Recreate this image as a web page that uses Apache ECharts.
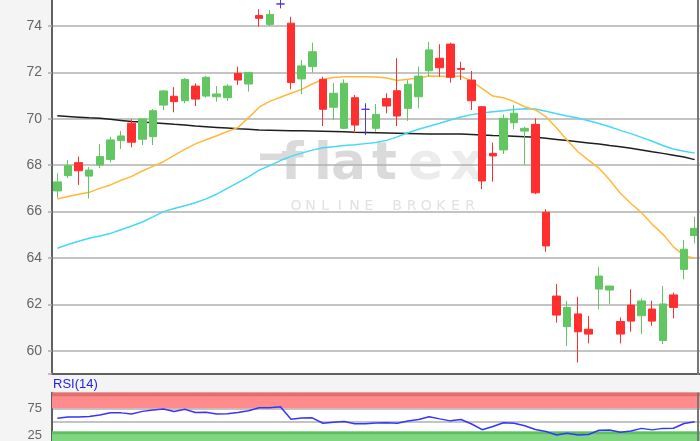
<!DOCTYPE html>
<html><head><meta charset="utf-8">
<script src="https://cdn.jsdelivr.net/npm/echarts@6/dist/echarts.min.js"></script>
<style>html,body{margin:0;padding:0;background:#f4f4f4}#c{width:700px;height:441px}</style>
</head><body><div id="c"></div>
<script>
const categories = [1,2,3,4,5,6,7,8,9,10,11,12,13,14,15,16,17,18,19,20,21,22,23,24,25,26,27,28,29,30,31,32,33,34,35,36,37,38,39,40,41,42,43,44,45,46,47,48,49,50,51,52,53,54,55,56,57,58,59,60,61];
const opens  = [66.89,67.55,68.11,67.53,68.01,68.25,69.06,69.81,69.12,69.23,70.59,70.97,70.78,71.41,70.98,70.95,70.91,71.96,71.50,74.45,74.07,74.95,74.12,71.72,72.25,71.70,70.50,69.59,70.91,70.41,69.59,70.87,71.21,70.45,70.95,72.07,72.61,73.22,72.17,71.67,70.52,68.51,68.66,69.83,69.47,69.76,65.97,62.36,61.04,61.59,60.93,62.66,62.62,61.26,61.97,61.51,61.80,60.44,62.41,63.51,64.97];
const closes = [67.28,67.98,67.76,67.79,68.37,69.09,69.26,68.99,69.99,70.35,71.20,70.74,71.70,70.85,71.79,71.07,71.41,71.67,71.99,74.33,74.50,74.95,71.56,72.28,72.89,70.41,71.10,71.53,69.73,70.41,70.19,70.55,70.12,71.49,71.84,72.97,72.20,71.79,72.13,70.78,67.32,68.40,70.02,70.24,69.59,66.81,64.52,61.54,61.87,60.82,60.72,63.22,62.79,60.72,61.28,62.15,61.28,62.02,61.87,64.38,65.28];
const lows   = [66.59,67.45,67.15,66.57,67.87,68.12,68.70,68.77,68.87,68.87,70.38,70.28,70.67,70.55,70.91,70.74,70.77,71.46,71.17,73.97,74.00,74.76,71.27,71.06,71.99,69.69,69.95,69.55,69.38,69.30,69.44,70.24,69.69,69.91,70.45,71.81,71.81,71.56,71.67,70.38,66.97,67.29,68.48,69.55,68.01,66.75,64.27,61.21,60.21,59.49,60.32,61.79,62.02,60.32,60.82,60.72,61.08,60.29,61.40,63.08,64.63];
const highs  = [67.66,68.22,68.37,67.92,68.91,69.22,69.47,69.98,70.02,70.42,71.24,71.36,71.75,71.53,71.84,71.41,71.49,72.25,72.03,74.72,74.69,75.20,74.40,72.53,73.28,71.81,71.53,71.70,71.03,70.67,70.64,71.10,72.61,71.67,72.25,73.32,73.21,73.28,72.46,72.06,70.55,68.97,70.19,70.59,69.66,70.02,66.10,62.88,62.16,62.33,61.50,63.60,62.80,61.44,62.65,62.26,62.16,62.79,62.51,64.78,65.78];
const maShort = [66.54,66.65,66.75,66.83,67.00,67.15,67.35,67.52,67.75,67.95,68.15,68.42,68.68,68.92,69.10,69.27,69.45,69.62,70.05,70.50,70.75,70.93,71.10,71.27,71.50,71.70,71.78,71.81,71.81,71.81,71.80,71.76,71.65,71.70,71.76,71.84,71.83,71.81,71.84,71.62,71.30,70.98,70.91,70.74,70.52,70.38,70.09,69.60,69.08,68.58,68.22,67.87,67.36,66.79,66.35,65.95,65.45,65.03,64.48,64.10,63.99];
const maMid = [64.42,64.58,64.72,64.85,64.95,65.06,65.22,65.38,65.55,65.77,66.00,66.13,66.25,66.38,66.55,66.75,67.00,67.25,67.50,67.79,67.98,68.20,68.38,68.52,68.65,68.75,68.80,68.85,68.88,68.93,68.98,69.07,69.22,69.40,69.55,69.68,69.81,69.95,70.08,70.18,70.25,70.30,70.35,70.40,70.43,70.42,70.33,70.22,70.12,70.03,69.92,69.80,69.66,69.50,69.36,69.20,69.03,68.85,68.70,68.60,68.52];
const maLong = [70.13,70.10,70.07,70.04,70.02,69.98,69.93,69.88,69.86,69.83,69.80,69.76,69.73,69.69,69.66,69.63,69.60,69.57,69.55,69.52,69.51,69.50,69.49,69.48,69.47,69.46,69.45,69.44,69.42,69.41,69.40,69.39,69.38,69.37,69.36,69.35,69.35,69.34,69.34,69.32,69.30,69.28,69.27,69.25,69.23,69.20,69.16,69.11,69.06,69.01,68.96,68.91,68.85,68.80,68.73,68.66,68.58,68.51,68.43,68.35,68.24];
const rsi = [56.3,58.8,58.8,59.5,62.5,66.8,66.4,64.4,69.2,71.8,73.5,69.0,73.1,67.0,67.5,64.4,64.6,67.2,70.3,76.1,76.1,77.8,54.7,56.7,57.1,47.0,48.9,50.2,46.1,46.3,47.6,47.8,47.2,51.3,54.1,59.1,55.2,51.5,54.1,45.7,35.1,40.9,48.1,47.2,42.4,35.4,31.7,25.2,28.4,25.2,26.1,34.0,34.5,30.2,32.6,37.5,34.7,37.5,37.7,46.5,50.0];
const priceTicks = [60,62,64,66,68,70,72,74];
const rsiTicks = [25,75];

const GREEN = '#62c662', RED = '#ff2f2f', PURPLE = '#5533dd';
const FONT = 'Liberation Sans';

const candleData = categories.map((c, i) => {
  const item = { value: [opens[i], closes[i], lows[i], highs[i]] };
  if (opens[i] === closes[i]) {
    item.itemStyle = { color: PURPLE, color0: PURPLE, borderColor: PURPLE, borderColor0: PURPLE, borderColorDoji: PURPLE };
  }
  return item;
});

const wmFlat = '#dadada', wmEx = '#ececec', wmSub = '#e2e2e2';
const wmLetters = [
  ['f', 281, wmFlat], ['l', 314, wmFlat], ['a', 331, wmFlat], ['t', 372, wmFlat], ['e', 408, wmEx], ['x', 450, wmEx]
];
const subLetters = ['O','N','L','I','N','E','B','R','O','K','E','R'];
const graphic = [
  { type: 'rect', shape: { x: 52, y: 0, width: 648, height: 374 }, style: { fill: '#fff' }, z: -10, silent: true },
  { type: 'rect', shape: { x: 52, y: 392.7, width: 648, height: 49 }, style: { fill: '#fff' }, z: -10, silent: true },
  { type: 'rect', shape: { x: 260, y: 153.5, width: 34, height: 6.5 }, style: { fill: wmFlat }, z: -5, silent: true }
];
wmLetters.forEach(([ch, x, col]) => graphic.push({
  type: 'text', x: x, y: 165, z: -5, silent: true,
  style: { text: ch, fill: col, font: 'bold 52px "DejaVu Sans"', textVerticalAlign: 'middle', verticalAlign: 'middle' }
}));
subLetters.forEach((ch, i) => graphic.push({
  type: 'text', x: (i < 6 ? 296 + i * 14.6 : 397 + (i - 6) * 14.6), y: 206.7, z: -5, silent: true,
  style: { text: ch, fill: wmSub, font: '14px "DejaVu Sans"', textAlign: 'center', align: 'center', textVerticalAlign: 'middle', verticalAlign: 'middle' }
}));
graphic.push(
  { type: 'line', shape: { x1: 698, y1: 0, x2: 698, y2: 375 }, style: { stroke: '#777', lineWidth: 2 }, z: 10, silent: true },
  { type: 'line', shape: { x1: 698, y1: 392.7, x2: 698, y2: 441 }, style: { stroke: '#777', lineWidth: 2 }, z: 10, silent: true }
);

const chart = echarts.init(document.getElementById('c'), null, { renderer: 'canvas' });
chart.setOption({
  animation: false,
  backgroundColor: '#f4f4f4',
  title: { text: 'RSI(14)', left: 53, top: 378, padding: 0, textStyle: { fontSize: 13, fontWeight: 'normal', color: '#2424e6', fontFamily: FONT } },
  graphic: graphic,
  grid: [
    { left: 52, right: 0, top: -20.4, height: 394.4, outerBoundsMode: 'none', containLabel: false },
    { left: 52, right: 0, top: 392.7, height: 55.8, outerBoundsMode: 'none', containLabel: false }
  ],
  xAxis: [
    { type: 'category', data: categories, gridIndex: 0, boundaryGap: true,
      axisLine: { show: true, lineStyle: { color: '#606060', width: 2 } }, axisTick: { show: false }, axisLabel: { show: false }, splitLine: { show: false } },
    { type: 'category', data: categories, gridIndex: 1, boundaryGap: true,
      axisLine: { show: false }, axisTick: { show: false }, axisLabel: { show: false }, splitLine: { show: false } }
  ],
  yAxis: [
    { type: 'value', gridIndex: 0, min: 59, max: 76, splitNumber: 8, scale: true,
      axisLine: { show: true, lineStyle: { color: '#606060', width: 2 } },
      axisTick: { show: true, length: 4, lineStyle: { color: '#aaa', width: 1.5 } },
      axisLabel: { margin: 10, fontSize: 14, color: '#666', fontFamily: FONT,
        formatter: v => priceTicks.includes(Math.round(v * 100) / 100) ? String(Math.round(v)) : '' },
      splitLine: { show: true, lineStyle: { color: '#b0b0b0', width: 1.5 } } },
    { type: 'value', gridIndex: 1, min: 0, max: 104, interval: 25,
      axisLine: { show: true, lineStyle: { color: '#606060', width: 2 } },
      axisTick: { show: false },
      axisLabel: { margin: 10, fontSize: 13, color: '#666', fontFamily: FONT,
        formatter: v => rsiTicks.includes(v) ? String(v) : '' },
      splitLine: { show: true, lineStyle: { color: '#b0b0b0', width: 1.5 } } }
  ],
  series: [
    { type: 'line', xAxisIndex: 0, yAxisIndex: 0, data: maLong, showSymbol: false, silent: true, z: 2,
      lineStyle: { color: '#1e1e1e', width: 1.5 } },
    { type: 'line', xAxisIndex: 0, yAxisIndex: 0, data: maMid, showSymbol: false, silent: true, z: 2,
      lineStyle: { color: '#45d8f7', width: 1.5 } },
    { type: 'line', xAxisIndex: 0, yAxisIndex: 0, data: maShort, showSymbol: false, silent: true, z: 2,
      lineStyle: { color: '#ffb93a', width: 1.5 } },
    { type: 'candlestick', xAxisIndex: 0, yAxisIndex: 0, data: candleData, barWidth: 8, z: 3,
      itemStyle: { color: GREEN, color0: RED, borderColor: GREEN, borderColor0: RED, borderWidth: 1 } },
    { type: 'line', xAxisIndex: 1, yAxisIndex: 1, data: rsi, showSymbol: false, silent: true, z: 3,
      lineStyle: { color: '#3535ff', width: 1.5 },
      markArea: { silent: true, data: [
        [{ yAxis: 75, itemStyle: { color: '#ff8c8c' } }, { yAxis: 104 }],
        [{ yAxis: 97.3, itemStyle: { color: '#e86c6c' } }, { yAxis: 104 }],
        [{ yAxis: 0, itemStyle: { color: '#80d680' } }, { yAxis: 31.7 }],
        [{ yAxis: 26.5, itemStyle: { color: '#5fbf5f' } }, { yAxis: 31.7 }]
      ] } }
  ]
});
</script>
</body></html>
